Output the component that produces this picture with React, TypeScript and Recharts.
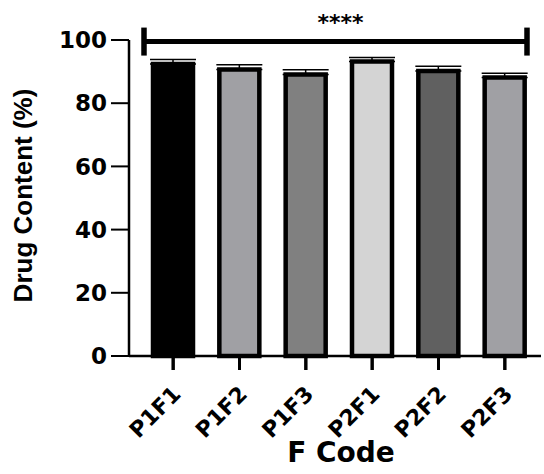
import { Bar, BarChart, Cell, ErrorBar, ReferenceLine, XAxis, YAxis } from "recharts";

const formulations = ["P1F1", "P1F2", "P1F3", "P2F1", "P2F2", "P2F3"];
const drugContent = [92.4, 90.7, 89.1, 93.2, 90.2, 88.1];
const drugContentSD = [1.4, 1.5, 1.5, 1.3, 1.5, 1.4];
const barColors = ["#000000", "#a0a0a4", "#808080", "#d4d4d4", "#606060", "#a0a0a4"];
const yTicks = [0, 20, 40, 60, 80, 100];
const sigLevel = 99.5;
const sigLabel = "****";

const rows = formulations.map((code, i) => ({
  code,
  content: drugContent[i],
  err: [0, drugContentSD[i]],
}));

const BOLD_WIDE = "'DejaVu Sans', sans-serif";
const BOLD_ARIAL = "'Liberation Sans', Arial, sans-serif";
const X_TICK_SIZE = 14;
const X_TICK_MARGIN = 2;

// rotated category label, plus its own tick mark so it always shows
function XTick({ x, y, payload }: { x: number; y: number; payload: { value: string } }) {
  const ax = x + 9;
  const ay = y + 23.5;
  const axisY = y - X_TICK_SIZE - X_TICK_MARGIN;
  return (
    <g>
      <line x1={x} x2={x} y1={axisY} y2={axisY + X_TICK_SIZE} stroke="#000" strokeWidth={3} />
      <text
        x={ax}
        y={ay}
        textAnchor="end"
        transform={`rotate(-45 ${ax} ${ay})`}
        fontFamily={BOLD_WIDE}
        fontWeight="bold"
        fontSize={22}
        fill="#000"
      >
        {payload.value}
      </text>
    </g>
  );
}

// significance bracket across all groups, with stars above
function SigBracket(props: any) {
  const { x1, x2, y1 } = props;
  const left = x1 + 15;
  const right = x2 - 14;
  return (
    <g>
      <line x1={left} x2={right} y1={y1} y2={y1} stroke="#000" strokeWidth={5} />
      <line x1={left} x2={left} y1={y1 - 14} y2={y1 + 14} stroke="#000" strokeWidth={5.5} />
      <line x1={right} x2={right} y1={y1 - 14} y2={y1 + 14} stroke="#000" strokeWidth={5.5} />
      <text
        x={(left + right) / 2 + 5}
        y={y1 - 12}
        textAnchor="middle"
        fontFamily={BOLD_WIDE}
        fontWeight="bold"
        fontSize={22}
        fill="#000"
      >
        {sigLabel}
      </text>
    </g>
  );
}

export default function App() {
  return (
    <div style={{ width: 544, height: 474, background: "#fff" }}>
      <style>{"body{margin:0}"}</style>
      <BarChart width={544} height={474} data={rows} margin={{ top: 40, right: 3, bottom: 0, left: 0 }}>
        <XAxis
          dataKey="code"
          height={118}
          padding={{ left: 11, right: 3 }}
          axisLine={{ stroke: "#000", strokeWidth: 2.5 }}
          tickLine={{ stroke: "#000", strokeWidth: 3 }}
          tickSize={X_TICK_SIZE}
          tickMargin={X_TICK_MARGIN}
          tick={(p: any) => <XTick {...p} />}
          interval={0}
          label={{
            content: ({ viewBox }: any) => (
              <text
                x={viewBox.x + viewBox.width / 2 + 6}
                y={462}
                textAnchor="middle"
                fontFamily={BOLD_WIDE}
                fontWeight="bold"
                fontSize={28}
                fill="#000"
              >
                F Code
              </text>
            ),
          }}
        />
        <YAxis
          width={129}
          domain={[0, 100]}
          ticks={yTicks}
          interval={0}
          axisLine={{ stroke: "#000", strokeWidth: 2.5 }}
          tickLine={{ stroke: "#000", strokeWidth: 2 }}
          tickSize={18}
          tickMargin={4}
          tick={{ fill: "#000", fontSize: 23, fontWeight: "bold", fontFamily: BOLD_WIDE }}
          label={{
            content: () => (
              <text
                x={31.5}
                y={195.5}
                textAnchor="middle"
                transform="rotate(-90 31.5 195.5)"
                fontFamily={BOLD_ARIAL}
                fontWeight="bold"
                fontSize={26}
                fill="#000"
              >
                Drug Content (%)
              </text>
            ),
          }}
        />
        <Bar dataKey="content" barSize={40} stroke="#000" strokeWidth={4.5} isAnimationActive={false}>
          {rows.map((r, i) => (
            <Cell key={r.code} fill={barColors[i]} />
          ))}
          <ErrorBar dataKey="err" width={23} stroke="#000" strokeWidth={1.5} direction="y" isAnimationActive={false} />
        </Bar>
        <ReferenceLine y={sigLevel} ifOverflow="visible" shape={(p: any) => <SigBracket {...p} />} />
      </BarChart>
    </div>
  );
}
